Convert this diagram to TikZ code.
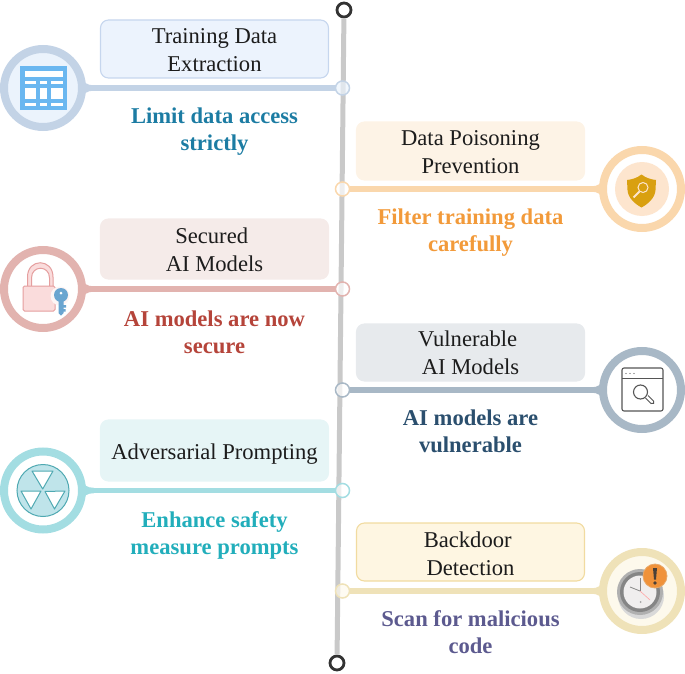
\documentclass[tikz,border=0pt]{standalone}
\usepackage{fontspec}
\setmainfont{Liberation Serif}
\usetikzlibrary{arrows.meta,positioning}
\definecolor{tlInk}{HTML}{1C1C1C}
\definecolor{tlSpine}{HTML}{C9C9C9}
\definecolor{tlEnd}{HTML}{333333}
\definecolor{tlBlueRing}{HTML}{C3D3E6}
\definecolor{tlBlueCore}{HTML}{EBF3FC}
\definecolor{tlBlueBox}{HTML}{ECF3FD}
\definecolor{tlBlueEdge}{HTML}{C6D6EE}
\definecolor{tlBlueText}{HTML}{1C7CA3}
\definecolor{tlRedRing}{HTML}{E2B3AF}
\definecolor{tlRedCore}{HTML}{FFFFFF}
\definecolor{tlRedBox}{HTML}{F5EBE9}
\definecolor{tlRedEdge}{HTML}{F5EBE9}
\definecolor{tlRedText}{HTML}{B5443A}
\definecolor{tlTealRing}{HTML}{A3DDE2}
\definecolor{tlTealCore}{HTML}{FFFFFF}
\definecolor{tlTealBox}{HTML}{E6F5F6}
\definecolor{tlTealEdge}{HTML}{E6F5F6}
\definecolor{tlTealText}{HTML}{22AEBB}
\definecolor{tlOrangeRing}{HTML}{FAD7AC}
\definecolor{tlOrangeCore}{HTML}{FFFFFF}
\definecolor{tlOrangeBox}{HTML}{FDF3E6}
\definecolor{tlOrangeEdge}{HTML}{FDF3E6}
\definecolor{tlOrangeText}{HTML}{F29A3A}
\definecolor{tlSlateRing}{HTML}{A8B8C6}
\definecolor{tlSlateCore}{HTML}{FFFFFF}
\definecolor{tlSlateBox}{HTML}{E7EAED}
\definecolor{tlSlateEdge}{HTML}{E7EAED}
\definecolor{tlSlateText}{HTML}{2B4F6E}
\definecolor{tlSandRing}{HTML}{EFE2B8}
\definecolor{tlSandCore}{HTML}{FDF9EC}
\definecolor{tlSandBox}{HTML}{FEF6E2}
\definecolor{tlSandEdge}{HTML}{F1DBA0}
\definecolor{tlSandText}{HTML}{5C5A8F}
\definecolor{tlTable}{HTML}{6AB7F0}
\definecolor{tlLockEdge}{HTML}{E59E9E}
\definecolor{tlLockFill}{HTML}{FADCDC}
\definecolor{tlKey}{HTML}{6AA5D0}
\definecolor{tlRadEdge}{HTML}{4FA9B2}
\definecolor{tlRadFill}{HTML}{BFE4EA}
\definecolor{tlShield}{HTML}{D9A010}
\definecolor{tlShieldFill}{HTML}{FDE5CE}
\definecolor{tlWindow}{HTML}{555555}
\definecolor{tlClockRim}{HTML}{B0B0B0}
\definecolor{tlClockDark}{HTML}{858585}
\definecolor{tlClockFace}{HTML}{F0EEEE}
\definecolor{tlBadge}{HTML}{F0923A}
\definecolor{tlBadgeEdge}{HTML}{E8A868}
\definecolor{tlBadgeMark}{HTML}{4A4038}
\tikzset{
  % All sizes are in reference pixels; y grows downward.
  tl/base/.style={x=1pt,y=-1pt,line cap=butt},
  tl/head box/.style={
    rectangle,rounded corners=8pt,line width=1.1pt,
    minimum width=228pt,minimum height=58pt,inner sep=0pt
  },
  tl/head text/.style={
    align=center,inner sep=0pt,text=tlInk,
    font=\fontsize{22.6pt}{28pt}\selectfont
  },
  tl/tip label/.style={
    align=center,inner sep=0pt,
    font=\bfseries\fontsize{22.6pt}{27pt}\selectfont
  },
  tl/ring/.style={
    circle,line width=8pt,minimum size=78pt,inner sep=0pt,outer sep=0pt
  },
  tl/dot/.style={
    circle,line width=1.5pt,minimum size=14pt,inner sep=0pt,outer sep=0pt
  },
  tl/end/.style={
    circle,draw=tlEnd,fill=white,line width=2.8pt,
    minimum size=14pt,inner sep=0pt
  },
  tl/link/.style={line width=5.5pt},
  tl/spine/.style={draw=tlSpine,line width=5pt}
}
\begin{document}
\begin{tikzpicture}[tl/base]
  \useasboundingbox (0,0) rectangle (685,674);
  \node[tl/end] (spineTop) at (344,10) {};
  \node[tl/end] (spineBottom) at (337,663) {};
  \draw[tl/spine] (spineTop) -- (spineBottom);

  % name / ring x / row y / side / box x,y,h / head y / tip y / colour / texts
  \foreach \nm/\cx/\cy/\s/\bx/\by/\bh/\hy/\ty/\col/\head/\tip in {
    extract/43/88/1/214.5/49/58/50/131.5/Blue/{Training Data\\Extraction}/{Limit data access\\strictly},
    poison/642/189/-1/470.5/151/58/152/232.5/Orange/{Data Poisoning\\Prevention}/{Filter training data\\carefully},
    secured/43/289/1/214.5/249/60/250/332.5/Red/{Secured\kern5.6pt\\AI Models}/{AI models are now\\secure},
    vulner/642/390/-1/470.5/352.5/57/352.5/431.5/Slate/{Vulnerable\kern5.6pt\\AI Models}/{AI models are\\vulnerable},
    advers/43/490.5/1/214.5/450.5/61/454.5/535/Teal/{Adversarial Prompting}/{Enhance safety\\measure prompts},
    backdoor/642/591/-1/470.5/552/58/554/632.5/Sand/{Backdoor\kern5.6pt\\Detection}/{Scan for malicious\\code}} {
    \node[tl/head box,draw=tl\col Edge,fill=tl\col Box,minimum height=\bh pt]
      (box-\nm) at (\bx,\by) {};
    \node[tl/head text] (head-\nm) at (\bx,\hy) {\head};
    \node[tl/tip label,text=tl\col Text] (tip-\nm) at (\bx,\ty) {\tip};
    \node[tl/ring,draw=tl\col Ring,fill=tl\col Core] (ring-\nm) at (\cx,\cy) {};
    \node[tl/dot,draw=tl\col Ring,fill=tl\col Core,fill opacity=.7]
      (dot-\nm) at (342.5,\cy) {};
    \draw[tl/link,draw=tl\col Ring] (ring-\nm) -- (dot-\nm);
    % Small flare where the line leaves the ring.
    \fill[tl\col Ring] (\cx+\s*37.5,\cy-12) .. controls (\cx+\s*41,\cy-5) and (\cx+\s*44,\cy-2.7)
      .. (\cx+\s*51,\cy-2.7) -- (\cx+\s*51,\cy+2.7)
      .. controls (\cx+\s*44,\cy+2.7) and (\cx+\s*41,\cy+5) .. (\cx+\s*37.5,\cy+12) -- cycle;
  }

  % Table icon.
  \fill[tlTable] (20,66) rectangle (67,110);
  \fill[white] (25,71) rectangle (62.5,77);
  \foreach \xa/\xb in {24.5/36,40/47,51/62.5}
    \foreach \ya/\yb in {81/84,88.5/99,103/106}
      \fill[white] (\xa,\ya) rectangle (\xb,\yb);

  % Lock with key.
  \draw[tlLockEdge,line width=1pt,fill=tlLockFill]
    (27.5,287) -- (27.5,277) .. controls (27.5,258) and (53,258) .. (53,277) -- (53,287)
    -- (49.5,287) -- (49.5,278) .. controls (49.5,265) and (31.5,265) .. (31.5,278) -- (31.5,287) -- cycle;
  \draw[tlLockEdge,line width=1pt,fill=tlLockFill,rounded corners=1.5pt] (23,286) rectangle (55,311);
  \fill[white!70!tlLockFill] (60,296) circle[radius=9.5];
  \fill[tlKey] (61,295) circle[radius=7];
  \fill[tlKey] (58.5,298) -- (63.5,298) -- (63.5,313) -- (61,315.5) -- (58.5,313) -- cycle;
  \fill[tlKey] (63,305) rectangle (66,307.5) (63,309) rectangle (65.5,311.5);
  \fill[white] (61,293) circle[radius=1.5];

  % Radiation icon.
  \draw[tlRadEdge,line width=1pt,fill=tlRadFill] (43,490.5) circle[radius=26];
  \foreach \tri in {{(32,471) -- (53,471) -- (42.7,489)},
    {(21,491) -- (41,491) -- (31,509)},
    {(45,491.5) -- (65,491) -- (54.5,509)}}
    \draw[tlRadEdge,line width=1pt,fill=white,line join=round] \tri -- cycle;

  % Shield icon.
  \fill[tlShieldFill] (642,189) circle[radius=27];
  \fill[tlShield] (641.5,174.5) .. controls (646,178) and (651,179.5) .. (656,180)
    -- (655.5,190) .. controls (655,198) and (648,204) .. (641.5,207.5)
    .. controls (635,204) and (628,198) .. (627.5,190) -- (627,180)
    .. controls (632,179.5) and (637,178) .. (641.5,174.5) -- cycle;
  \draw[tlShieldFill,line width=1pt] (643,187.5) circle[radius=5];
  \draw[tlShieldFill,line width=1.8pt] (639.5,191.5) -- (633.5,197.5);

  % Browser window with lens.
  \draw[tlWindow,line width=1.1pt,rounded corners=2pt] (622,368) rectangle (663,411);
  \draw[tlWindow,line width=1pt] (622,378) -- (663,378);
  \foreach \dx in {626,630,634}
    \fill[tlWindow] (\dx,373.5) circle[radius=.6];
  \draw[tlWindow,line width=1.1pt] (640.5,392) circle[radius=7];
  \draw[tlWindow,line width=1pt,fill=white] (645.5,398) -- (651,403.5)
    .. controls (653,405) and (655,402.5) .. (653.5,401) -- (648,395.5);

  % Clock with warning badge.
  \fill[black!15] (641,596) circle[radius=23];
  \fill[tlClockRim] (640,592) circle[radius=23];
  \fill[tlClockDark] (640,592) circle[radius=20];
  \fill[tlClockFace] (640,592) circle[radius=16.5];
  \draw[tlClockDark,line width=1pt] (640,591) -- (640,578);
  \draw[tlClockDark,line width=.8pt] (640,591) -- (630,587);
  \draw[red!35,line width=.6pt] (640,591) -- (650,600);
  \fill[black!35] (640.5,602) circle[radius=1];
  \fill[tlBadge] (655,576) circle[radius=12];
  \draw[tlBadgeEdge,line width=.8pt] (655,576) circle[radius=12];
  \fill[tlBadgeMark] (653,568) -- (657,568) -- (656,579.5) -- (654,579.5) -- cycle;
  \fill[tlBadgeMark] (655,583) circle[radius=1.9];
\end{tikzpicture}
\end{document}
